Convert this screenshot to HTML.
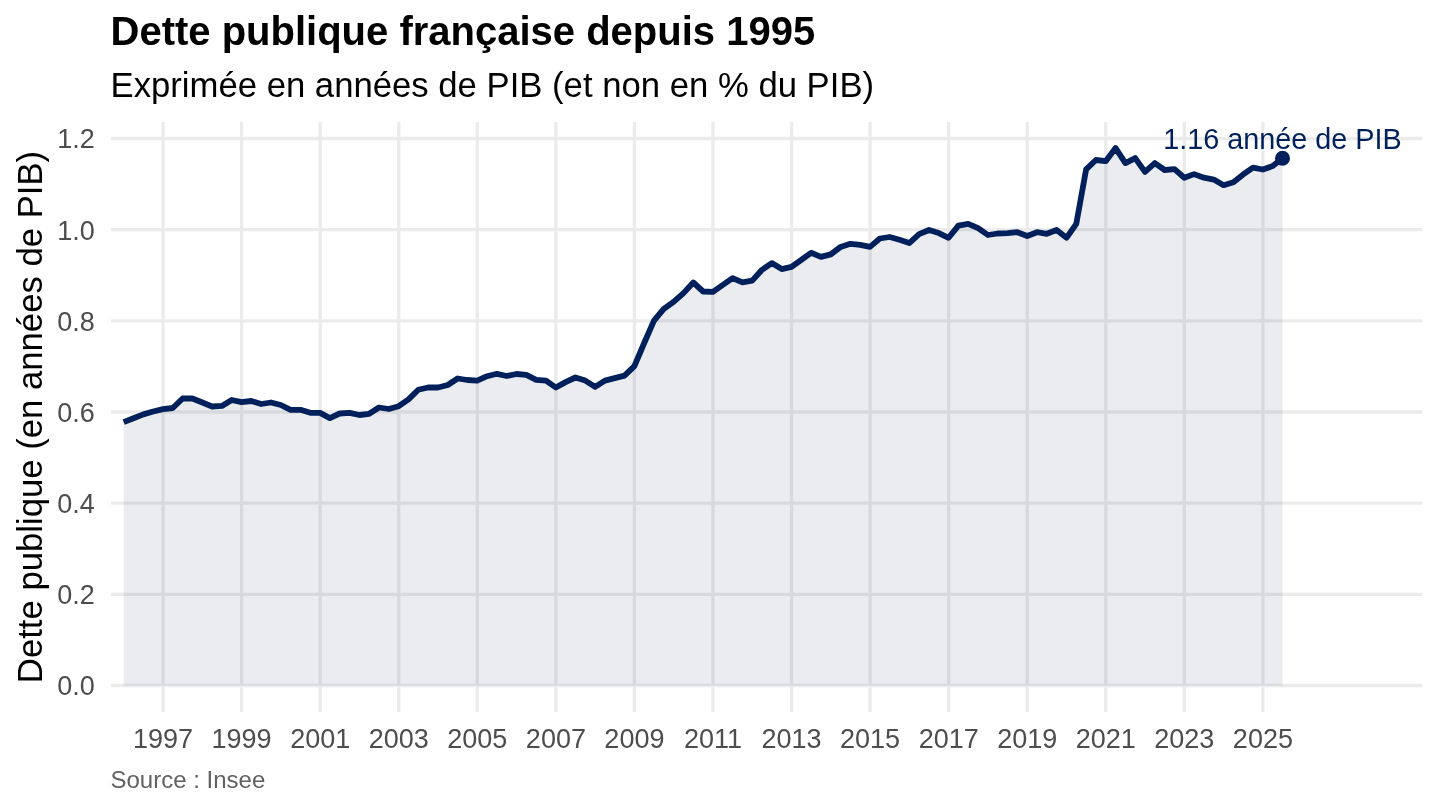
<!DOCTYPE html>
<html lang="fr"><head><meta charset="utf-8"><title>Dette publique française depuis 1995</title>
<style>
html,body{margin:0;padding:0;background:#fff;}
body{width:1440px;height:810px;overflow:hidden;}
svg{display:block;font-family:"Liberation Sans",Arial,Helvetica,sans-serif;}
.g{stroke:#ebebeb;stroke-width:3.3;fill:none}
.t{fill:#4d4d4d;font-size:27px}
</style></head><body>
<svg width="1440" height="810" viewBox="0 0 1440 810">
<rect width="1440" height="810" fill="#fff"/>

<line class="g" x1="111" x2="1422.4" y1="685.50" y2="685.50"/>
<line class="g" x1="111" x2="1422.4" y1="594.33" y2="594.33"/>
<line class="g" x1="111" x2="1422.4" y1="503.17" y2="503.17"/>
<line class="g" x1="111" x2="1422.4" y1="412.00" y2="412.00"/>
<line class="g" x1="111" x2="1422.4" y1="320.84" y2="320.84"/>
<line class="g" x1="111" x2="1422.4" y1="229.67" y2="229.67"/>
<line class="g" x1="111" x2="1422.4" y1="138.50" y2="138.50"/>
<line class="g" x1="163.05" x2="163.05" y1="122" y2="712"/>
<line class="g" x1="241.61" x2="241.61" y1="122" y2="712"/>
<line class="g" x1="320.17" x2="320.17" y1="122" y2="712"/>
<line class="g" x1="398.73" x2="398.73" y1="122" y2="712"/>
<line class="g" x1="477.29" x2="477.29" y1="122" y2="712"/>
<line class="g" x1="555.85" x2="555.85" y1="122" y2="712"/>
<line class="g" x1="634.41" x2="634.41" y1="122" y2="712"/>
<line class="g" x1="712.98" x2="712.98" y1="122" y2="712"/>
<line class="g" x1="791.54" x2="791.54" y1="122" y2="712"/>
<line class="g" x1="870.10" x2="870.10" y1="122" y2="712"/>
<line class="g" x1="948.66" x2="948.66" y1="122" y2="712"/>
<line class="g" x1="1027.22" x2="1027.22" y1="122" y2="712"/>
<line class="g" x1="1105.78" x2="1105.78" y1="122" y2="712"/>
<line class="g" x1="1184.34" x2="1184.34" y1="122" y2="712"/>
<line class="g" x1="1262.90" x2="1262.90" y1="122" y2="712"/>
<polygon points="123.7,685.5 123.7,422.1 133.5,418.2 143.3,414.4 153.2,411.5 163.0,409.1 172.8,408.0 182.6,398.5 192.4,398.5 202.3,402.5 212.1,406.5 221.9,405.9 231.7,400.0 241.5,402.2 251.4,401.0 261.2,404.0 271.0,402.5 280.8,405.0 290.6,409.8 300.5,409.8 310.3,412.8 320.1,412.9 329.9,418.1 339.7,413.5 349.6,412.9 359.4,415.0 369.2,413.8 379.0,407.5 388.8,409.0 398.7,406.2 408.5,399.4 418.3,389.8 428.1,387.5 438.0,387.5 447.8,385.0 457.6,378.5 467.4,380.0 477.2,380.6 487.1,376.2 496.9,373.8 506.7,376.0 516.5,374.0 526.3,374.8 536.2,379.8 546.0,380.6 555.8,387.5 565.6,382.1 575.4,377.5 585.3,380.6 595.1,386.9 604.9,380.6 614.7,378.1 624.5,375.6 634.4,366.2 644.2,343.0 654.0,320.6 663.8,308.8 673.6,301.9 683.5,293.1 693.3,282.5 703.1,291.5 712.9,291.9 722.7,285.0 732.6,278.1 742.4,282.4 752.2,280.6 762.0,269.8 771.8,263.1 781.7,269.1 791.5,266.9 801.3,259.8 811.1,252.8 820.9,256.9 830.8,254.4 840.6,246.9 850.4,243.8 860.2,244.8 870.0,246.9 879.9,238.5 889.7,237.0 899.5,239.8 909.3,243.1 919.1,234.2 929.0,230.0 938.8,233.1 948.6,237.8 958.4,225.6 968.2,223.8 978.1,228.1 987.9,235.0 997.7,233.5 1007.5,233.1 1017.4,232.2 1027.2,236.0 1037.0,232.2 1046.8,233.8 1056.6,230.0 1066.5,237.8 1076.3,223.8 1086.1,169.4 1095.9,160.0 1105.7,161.2 1115.6,148.1 1125.4,163.1 1135.2,158.1 1145.0,171.9 1154.8,163.1 1164.7,170.0 1174.5,169.1 1184.3,177.7 1194.1,174.1 1203.9,177.7 1213.8,179.6 1223.6,185.2 1233.4,182.3 1243.2,174.4 1253.0,167.6 1262.9,169.5 1272.7,166.1 1282.5,158.3 1282.5,685.5" fill="#051244" fill-opacity="0.08"/>
<polyline points="123.7,422.1 133.5,418.2 143.3,414.4 153.2,411.5 163.0,409.1 172.8,408.0 182.6,398.5 192.4,398.5 202.3,402.5 212.1,406.5 221.9,405.9 231.7,400.0 241.5,402.2 251.4,401.0 261.2,404.0 271.0,402.5 280.8,405.0 290.6,409.8 300.5,409.8 310.3,412.8 320.1,412.9 329.9,418.1 339.7,413.5 349.6,412.9 359.4,415.0 369.2,413.8 379.0,407.5 388.8,409.0 398.7,406.2 408.5,399.4 418.3,389.8 428.1,387.5 438.0,387.5 447.8,385.0 457.6,378.5 467.4,380.0 477.2,380.6 487.1,376.2 496.9,373.8 506.7,376.0 516.5,374.0 526.3,374.8 536.2,379.8 546.0,380.6 555.8,387.5 565.6,382.1 575.4,377.5 585.3,380.6 595.1,386.9 604.9,380.6 614.7,378.1 624.5,375.6 634.4,366.2 644.2,343.0 654.0,320.6 663.8,308.8 673.6,301.9 683.5,293.1 693.3,282.5 703.1,291.5 712.9,291.9 722.7,285.0 732.6,278.1 742.4,282.4 752.2,280.6 762.0,269.8 771.8,263.1 781.7,269.1 791.5,266.9 801.3,259.8 811.1,252.8 820.9,256.9 830.8,254.4 840.6,246.9 850.4,243.8 860.2,244.8 870.0,246.9 879.9,238.5 889.7,237.0 899.5,239.8 909.3,243.1 919.1,234.2 929.0,230.0 938.8,233.1 948.6,237.8 958.4,225.6 968.2,223.8 978.1,228.1 987.9,235.0 997.7,233.5 1007.5,233.1 1017.4,232.2 1027.2,236.0 1037.0,232.2 1046.8,233.8 1056.6,230.0 1066.5,237.8 1076.3,223.8 1086.1,169.4 1095.9,160.0 1105.7,161.2 1115.6,148.1 1125.4,163.1 1135.2,158.1 1145.0,171.9 1154.8,163.1 1164.7,170.0 1174.5,169.1 1184.3,177.7 1194.1,174.1 1203.9,177.7 1213.8,179.6 1223.6,185.2 1233.4,182.3 1243.2,174.4 1253.0,167.6 1262.9,169.5 1272.7,166.1 1282.5,158.3" fill="none" stroke="#00205b" stroke-width="5.8" stroke-linejoin="round" stroke-linecap="butt"/>
<circle cx="1282.5" cy="158.3" r="7.5" fill="#00205b"/>
<text x="1282.5" y="148.5" text-anchor="middle" font-size="28.8" fill="#00205b">1.16 année de PIB</text>
<text class="t" x="94.8" y="695.4" text-anchor="end">0.0</text>
<text class="t" x="94.8" y="604.2" text-anchor="end">0.2</text>
<text class="t" x="94.8" y="513.1" text-anchor="end">0.4</text>
<text class="t" x="94.8" y="421.9" text-anchor="end">0.6</text>
<text class="t" x="94.8" y="330.7" text-anchor="end">0.8</text>
<text class="t" x="94.8" y="239.6" text-anchor="end">1.0</text>
<text class="t" x="94.8" y="148.4" text-anchor="end">1.2</text>
<text class="t" x="163.1" y="748" text-anchor="middle">1997</text>
<text class="t" x="241.6" y="748" text-anchor="middle">1999</text>
<text class="t" x="320.2" y="748" text-anchor="middle">2001</text>
<text class="t" x="398.7" y="748" text-anchor="middle">2003</text>
<text class="t" x="477.3" y="748" text-anchor="middle">2005</text>
<text class="t" x="555.9" y="748" text-anchor="middle">2007</text>
<text class="t" x="634.4" y="748" text-anchor="middle">2009</text>
<text class="t" x="713.0" y="748" text-anchor="middle">2011</text>
<text class="t" x="791.5" y="748" text-anchor="middle">2013</text>
<text class="t" x="870.1" y="748" text-anchor="middle">2015</text>
<text class="t" x="948.7" y="748" text-anchor="middle">2017</text>
<text class="t" x="1027.2" y="748" text-anchor="middle">2019</text>
<text class="t" x="1105.8" y="748" text-anchor="middle">2021</text>
<text class="t" x="1184.3" y="748" text-anchor="middle">2023</text>
<text class="t" x="1262.9" y="748" text-anchor="middle">2025</text>
<text x="110.5" y="45.4" font-size="40" font-weight="bold" fill="#000">Dette publique française depuis 1995</text>
<text x="110.5" y="96.9" font-size="34.7" fill="#000">Exprimée en années de PIB (et non en % du PIB)</text>
<text transform="translate(42,417) rotate(-90)" text-anchor="middle" font-size="34.7" fill="#000">Dette publique (en années de PIB)</text>
<text x="110.5" y="788" font-size="24" fill="#616161">Source : Insee</text>
</svg></body></html>
